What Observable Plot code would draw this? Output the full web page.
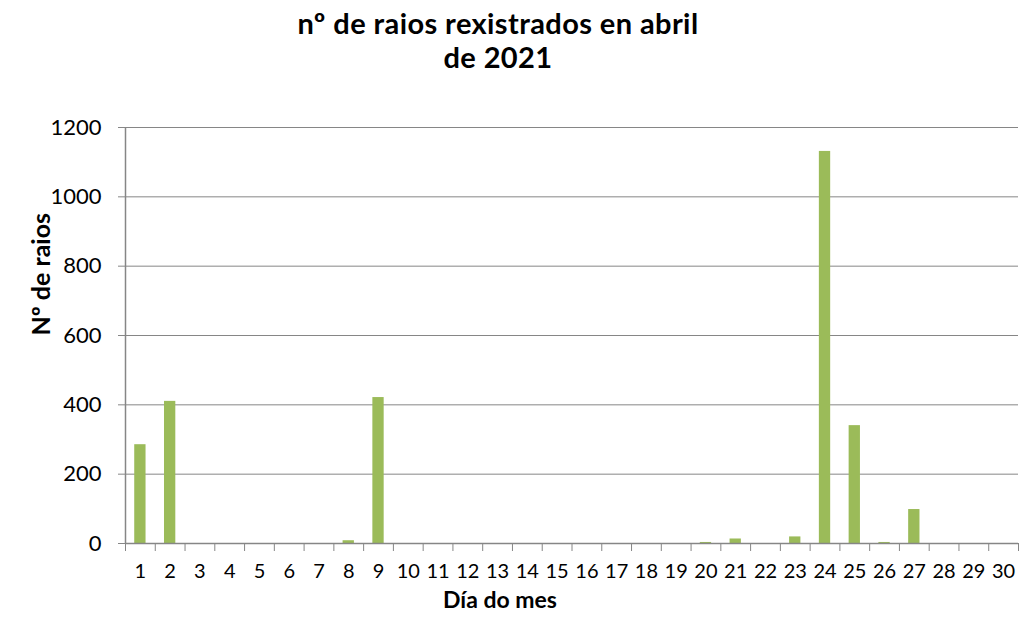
<!DOCTYPE html>
<html>
<head>
<meta charset="utf-8">
<script src="https://cdn.jsdelivr.net/npm/d3@7"></script>
<script src="https://cdn.jsdelivr.net/npm/@observablehq/plot@0.6"></script>
<style>
  html, body { margin: 0; padding: 0; background: #fff; }
  #wrap { width: 1021px; height: 618px; position: relative; overflow: hidden; }
  #title { position: absolute; left: 287px; top: 0; width: 422px; text-align: center;
    font-family: Lato, "Open Sans", sans-serif; font-weight: bold; font-size: 29px;
    letter-spacing: 0.4px; line-height: 34px; padding-top: 6px; color: #000; white-space: nowrap; }
  #chart { position: absolute; left: 0; top: 80px; }
</style>
</head>
<body>
<div id="wrap">
  <div id="title">nº de raios rexistrados en abril<br>de 2021</div>
  <div id="chart"></div>
</div>
<script>
const days = d3.range(1, 31);
const raios = [285, 410, 0, 0, 0, 0, 0, 8, 421, 0,
               0, 0, 0, 0, 0, 0, 0, 0, 0, 3,
               13, 0, 19, 1131, 340, 3, 98, 0, 0, 0];
const yTicks = [0, 200, 400, 600, 800, 1000, 1200];
const boundaries = [...days.map(d => d - 0.5), 30.5];
const title = "nº de raios rexistrados en abril de 2021";
const xLabel = "Día do mes";
const yLabel = "Nº de raios";

const data = days.map((d, i) => ({day: d, value: raios[i]}));
const gray = "#868686";
const font = "Lato, 'Open Sans', sans-serif";

const chart = Plot.plot({
  width: 1021,
  height: 538,
  marginTop: 47,
  marginBottom: 75,
  marginLeft: 125,
  marginRight: 3,
  style: {fontFamily: font, fontSize: "20px", color: "#000", background: "#fff", overflow: "visible"},
  x: {domain: [0.5, 30.5]},
  y: {domain: [0, 1200]},
  marks: [
    Plot.gridY(yTicks, {stroke: gray, strokeOpacity: 1, strokeWidth: 1}),
    Plot.rectY(data, {x1: d => d.day - 0.19, x2: d => d.day + 0.19, y: "value", fill: "#9BBB59"}),
    Plot.ruleY([0], {stroke: gray, strokeWidth: 1.5}),
    Plot.ruleX([0.5], {stroke: gray, strokeWidth: 1.5}),
    Plot.axisY({ticks: yTicks, tickSize: 7, tickPadding: 17, stroke: gray, strokeOpacity: 1, label: null, fontSize: 22, tickFormat: d3.format("d")}),
    Plot.axisX({ticks: boundaries, tickSize: 8, tickFormat: () => "", stroke: gray, strokeOpacity: 1, label: null}),
    Plot.axisX({ticks: days, tickSize: 0, tickPadding: 20, label: null, fontSize: 20}),
    Plot.text([xLabel], {frameAnchor: "bottom", dx: -72, dy: 64, fontWeight: "bold", fontSize: 23}),
    Plot.text([yLabel], {frameAnchor: "left", dx: -84, rotate: -90, fontWeight: "bold", fontSize: 25})
  ]
});
chart.setAttribute("aria-label", title);
document.getElementById("chart").appendChild(chart);
</script>
</body>
</html>
